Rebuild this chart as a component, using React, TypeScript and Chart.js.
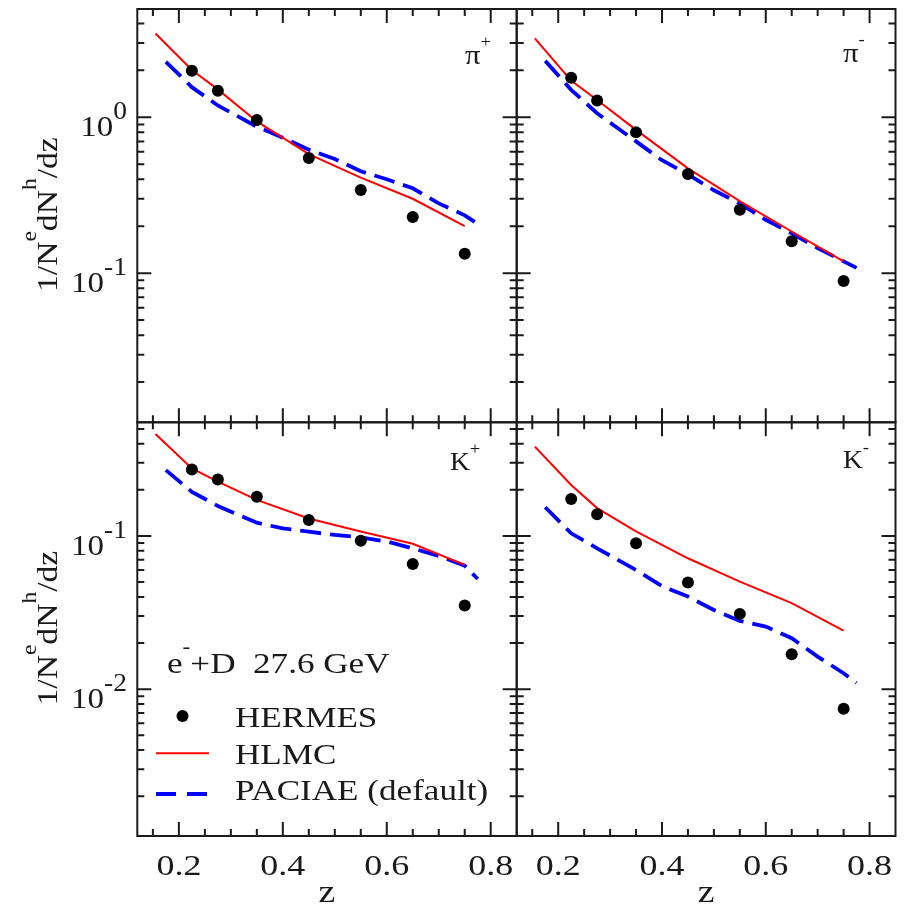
import React, { useEffect, useRef } from 'react';
import { Chart, registerables } from 'chart.js';
Chart.register(...registerables);

// ---------------- data ----------------
const zHermes = [0.225, 0.275, 0.35, 0.45, 0.55, 0.65, 0.75];
const zHlmc = [0.155, 0.225, 0.275, 0.35, 0.45, 0.55, 0.65, 0.75];
const zPaciae = [0.175, 0.225, 0.275, 0.35, 0.4, 0.45, 0.5, 0.55, 0.6, 0.65, 0.7, 0.75, 0.775];

const hermesPiPlus = [1.99, 1.48, 0.96, 0.548, 0.342, 0.229, 0.133];
const hermesPiMinus = [1.79, 1.28, 0.8, 0.433, 0.255, 0.16, 0.089];
const hermesKPlus = [0.272, 0.234, 0.18, 0.127, 0.093, 0.0656, 0.0351];
const hermesKMinus = [0.174, 0.1385, 0.0896, 0.0496, 0.031, 0.0169, 0.00744];

const hlmcPiPlus = [3.45, 2.01, 1.51, 0.94, 0.58, 0.41, 0.3, 0.2];
const hlmcPiMinus = [3.21, 1.72, 1.29, 0.83, 0.47, 0.29, 0.185, 0.119];
const hlmcKPlus = [0.463, 0.276, 0.226, 0.172, 0.13, 0.107, 0.089, 0.0647];
const hlmcKMinus = [0.383, 0.215, 0.152, 0.107, 0.0715, 0.0503, 0.0364, 0.0241];

const paciaePiPlus = [2.27, 1.56, 1.19, 0.87, 0.74, 0.62, 0.54, 0.45, 0.4, 0.35, 0.28, 0.235, 0.207];
const paciaePiMinus = [2.3, 1.5, 1.06, 0.7, 0.53, 0.43, 0.34, 0.28, 0.22, 0.18, 0.145, 0.119, 0.108];
const paciaeKPlus = [0.269, 0.194, 0.157, 0.122, 0.112, 0.1066, 0.1015, 0.098, 0.092, 0.083, 0.074, 0.064, 0.0524];
const paciaeKMinus = [0.154, 0.104, 0.083, 0.06, 0.047, 0.0402, 0.0329, 0.0279, 0.0256, 0.0215, 0.0163, 0.0127, 0.011];

const xTickValues = [0.2, 0.4, 0.6, 0.8];
const xTickLabels = ['0.2', '0.4', '0.6', '0.8'];
const seriesNames = ['HERMES', 'HLMC', 'PACIAE (default)'];
const systemLabel = ['e', '-', '+D  27.6 GeV'];

// ---------------- layout / style ----------------
const W = 909;
const H = 908;
const FONT = '"Liberation Serif", "Times New Roman", Times, serif';
const SX = 1.18;
const X_MIN = 0.12;
const X_MAX = 0.85;

type Part = { t: string; sup?: boolean };
type Opts = { size: number; supSize: number; rise: number; align: 'left' | 'right' | 'center'; sx?: number };

function drawRich(ctx: CanvasRenderingContext2D, parts: Part[], x: number, y: number, o: Opts) {
  const sx = o.sx ?? SX;
  const widths = parts.map((p) => {
    ctx.font = `${p.sup ? o.supSize : o.size}px ${FONT}`;
    return ctx.measureText(p.t).width * sx;
  });
  const total = widths.reduce((a, b) => a + b, 0);
  let cx = o.align === 'left' ? x : o.align === 'right' ? x - total : x - total / 2;
  parts.forEach((p, i) => {
    ctx.font = `${p.sup ? o.supSize : o.size}px ${FONT}`;
    ctx.save();
    ctx.translate(cx, y - (p.sup ? o.rise : 0));
    ctx.scale(sx, 1);
    ctx.textAlign = 'left';
    ctx.textBaseline = 'alphabetic';
    ctx.fillText(p.t, 0, 0);
    ctx.restore();
    cx += widths[i];
  });
}

type Panel = {
  key: string;
  name: string;
  sign: string;
  hermes: number[];
  hlmc: number[];
  paciae: number[];
  l: number; r: number; t: number; b: number;
  yMin: number; yMax: number;
  leftCol: boolean;
  bottomRow: boolean;
  labelX: number; labelY: number; labelSize: number; labelRise: number;
};

const panels: Panel[] = [
  { key: 'pp', name: 'π', sign: '+', hermes: hermesPiPlus, hlmc: hlmcPiPlus, paciae: paciaePiPlus,
    l: 137.3, r: 516.7, t: 9, b: 422.3, yMin: 0.01104, yMax: 4.95, leftCol: true, bottomRow: false,
    labelX: 465, labelY: 64, labelSize: 28, labelRise: 17 },
  { key: 'pm', name: 'π', sign: '-', hermes: hermesPiMinus, hlmc: hlmcPiMinus, paciae: paciaePiMinus,
    l: 516.7, r: 895.5, t: 9, b: 422.3, yMin: 0.01104, yMax: 4.95, leftCol: false, bottomRow: false,
    labelX: 843, labelY: 62, labelSize: 28, labelRise: 17 },
  { key: 'kp', name: 'K', sign: '+', hermes: hermesKPlus, hlmc: hlmcKPlus, paciae: paciaeKPlus,
    l: 137.3, r: 516.7, t: 422.3, b: 836, yMin: 0.0011, yMax: 0.552, leftCol: true, bottomRow: true,
    labelX: 450, labelY: 470, labelSize: 25, labelRise: 16 },
  { key: 'km', name: 'K', sign: '-', hermes: hermesKMinus, hlmc: hlmcKMinus, paciae: paciaeKMinus,
    l: 516.7, r: 895.5, t: 422.3, b: 836, yMin: 0.0011, yMax: 0.552, leftCol: false, bottomRow: true,
    labelX: 843, labelY: 468, labelSize: 25, labelRise: 15 },
];

const INK = '#1a1a1a';

function makeDecor(p: Panel) {
  return {
    id: 'decor_' + p.key,
    afterDraw(chart: any) {
      const ctx: CanvasRenderingContext2D = chart.ctx;
      const { left, top, right, bottom } = chart.chartArea;
      const xs = chart.scales.x;
      const ys = chart.scales.y;
      ctx.save();
      ctx.strokeStyle = INK;
      ctx.fillStyle = INK;
      ctx.lineWidth = 2;
      ctx.setLineDash([]);
      ctx.strokeRect(left, top, right - left, bottom - top);

      // x ticks
      ctx.beginPath();
      for (let k = 0; k <= 20; k++) {
        const v = Math.round((0.1 + 0.05 * k) * 1000) / 1000;
        if (v <= X_MIN + 1e-6 || v >= X_MAX - 1e-6) continue;
        const major = Math.abs(v * 5 - Math.round(v * 5)) < 1e-6;
        const len = major ? 14 : 7;
        const px = xs.getPixelForValue(v);
        ctx.moveTo(px, bottom);
        ctx.lineTo(px, bottom - len);
        ctx.moveTo(px, top);
        ctx.lineTo(px, top + len);
      }
      // y ticks
      for (let d = -4; d <= 1; d++) {
        for (let m = 1; m <= 9; m++) {
          const v = m * Math.pow(10, d);
          if (v <= p.yMin * 1.001 || v >= p.yMax * 0.999) continue;
          const py = ys.getPixelForValue(v);
          const len = m === 1 ? 14 : 7;
          ctx.moveTo(left, py);
          ctx.lineTo(left + len, py);
          ctx.moveTo(right, py);
          ctx.lineTo(right - len, py);
        }
      }
      ctx.stroke();

      // x tick labels
      if (p.bottomRow) {
        xTickValues.forEach((v, i) => {
          const px = xs.getPixelForValue(v);
          drawRich(ctx, [{ t: xTickLabels[i] }], px, 875, { size: 30, supSize: 20, rise: 0, align: 'center', sx: 1.2 });
        });
        const cx = (left + right) / 2;
        drawRich(ctx, [{ t: 'z' }], cx, 902, { size: 32, supSize: 20, rise: 0, align: 'center' });
      }

      // y tick labels + title
      if (p.leftCol) {
        for (let d = -4; d <= 1; d++) {
          const v = Math.pow(10, d);
          if (v < p.yMin || v > p.yMax) continue;
          const py = ys.getPixelForValue(v);
          drawRich(ctx, [{ t: '10' }, { t: String(d), sup: true }], 127, py + 19,
            { size: 30, supSize: 25, rise: 17, align: 'right', sx: 1.1 });
        }
        const cy = (top + bottom) / 2 - 1;
        ctx.save();
        ctx.translate(57, cy);
        ctx.rotate(-Math.PI / 2);
        drawRich(ctx, [{ t: '1/N' }, { t: 'e', sup: true }, { t: 'dN' }, { t: 'h', sup: true }, { t: '/dz' }], 0, 0,
          { size: 30, supSize: 21, rise: 21, align: 'center', sx: 1.12 });
        ctx.restore();
      }

      // panel label
      drawRich(ctx, [{ t: p.name }, { t: p.sign, sup: true }], p.labelX, p.labelY,
        { size: p.labelSize, supSize: 17, rise: p.labelRise, align: 'left', sx: 1.1 });

      // legend in K+ panel
      if (p.key === 'kp') {
        drawRich(ctx, [{ t: systemLabel[0] }, { t: systemLabel[1], sup: true }, { t: systemLabel[2] }], 167, 673,
          { size: 30, supSize: 20, rise: 20, align: 'left', sx: 1.17 });
        // HERMES marker
        ctx.beginPath();
        ctx.arc(182.5, 716, 6, 0, Math.PI * 2);
        ctx.fillStyle = '#000';
        ctx.fill();
        ctx.fillStyle = INK;
        drawRich(ctx, [{ t: seriesNames[0] }], 235, 726.7, { size: 30, supSize: 20, rise: 0, align: 'left', sx: 1.17 });
        // HLMC line
        ctx.beginPath();
        ctx.strokeStyle = '#ff0000';
        ctx.lineWidth = 2;
        ctx.moveTo(156, 753.3);
        ctx.lineTo(209, 753.3);
        ctx.stroke();
        drawRich(ctx, [{ t: seriesNames[1] }], 235, 764, { size: 30, supSize: 20, rise: 0, align: 'left', sx: 1.17 });
        // PACIAE dashed
        ctx.beginPath();
        ctx.strokeStyle = '#0000ff';
        ctx.lineWidth = 3.8;
        ctx.setLineDash([20, 11]);
        ctx.moveTo(156, 794);
        ctx.lineTo(207, 794);
        ctx.stroke();
        ctx.setLineDash([]);
        drawRich(ctx, [{ t: seriesNames[2] }], 235, 800, { size: 30, supSize: 20, rise: 0, align: 'left', sx: 1.17 });
      }
      ctx.restore();
    },
  };
}

function PanelChart({ p }: { p: Panel }) {
  const ref = useRef<HTMLCanvasElement>(null);
  useEffect(() => {
    if (!ref.current) return;
    const chart = new Chart(ref.current, {
      type: 'scatter',
      data: {
        datasets: [
          {
            label: seriesNames[0],
            data: zHermes.map((z, i) => ({ x: z, y: p.hermes[i] })),
            showLine: false,
            pointRadius: 6,
            pointBackgroundColor: '#000',
            pointBorderColor: '#000',
            pointBorderWidth: 0,
            order: 0,
          },
          {
            label: seriesNames[1],
            data: zHlmc.map((z, i) => ({ x: z, y: p.hlmc[i] })),
            showLine: true,
            borderColor: '#ff0000',
            borderWidth: 2,
            pointRadius: 0,
            tension: 0,
            order: 1,
          },
          {
            label: seriesNames[2],
            data: zPaciae.map((z, i) => ({ x: z, y: p.paciae[i] })),
            showLine: true,
            borderColor: '#0000ff',
            borderWidth: 3.8,
            borderDash: [21, 9],
            pointRadius: 0,
            tension: 0,
            order: 2,
          },
        ],
      } as any,
      options: {
        responsive: false,
        animation: false,
        devicePixelRatio: 1,
        events: [],
        layout: { padding: { left: p.l, top: p.t, right: W - p.r, bottom: H - p.b } },
        scales: {
          x: { type: 'linear', min: X_MIN, max: X_MAX, display: false },
          y: { type: 'logarithmic', min: p.yMin, max: p.yMax, display: false },
        },
        plugins: { legend: { display: false }, tooltip: { enabled: false } },
      } as any,
      plugins: [makeDecor(p)],
    });
    return () => chart.destroy();
  }, [p]);
  return (
    <canvas
      ref={ref}
      width={W}
      height={H}
      style={{ position: 'absolute', left: 0, top: 0, width: W, height: H }}
    />
  );
}

export default function App() {
  return (
    <div style={{ position: 'absolute', left: 0, top: 0, width: W, height: H, background: '#fff', overflow: 'hidden' }}>
      {panels.map((p) => (
        <PanelChart key={p.key} p={p} />
      ))}
    </div>
  );
}
